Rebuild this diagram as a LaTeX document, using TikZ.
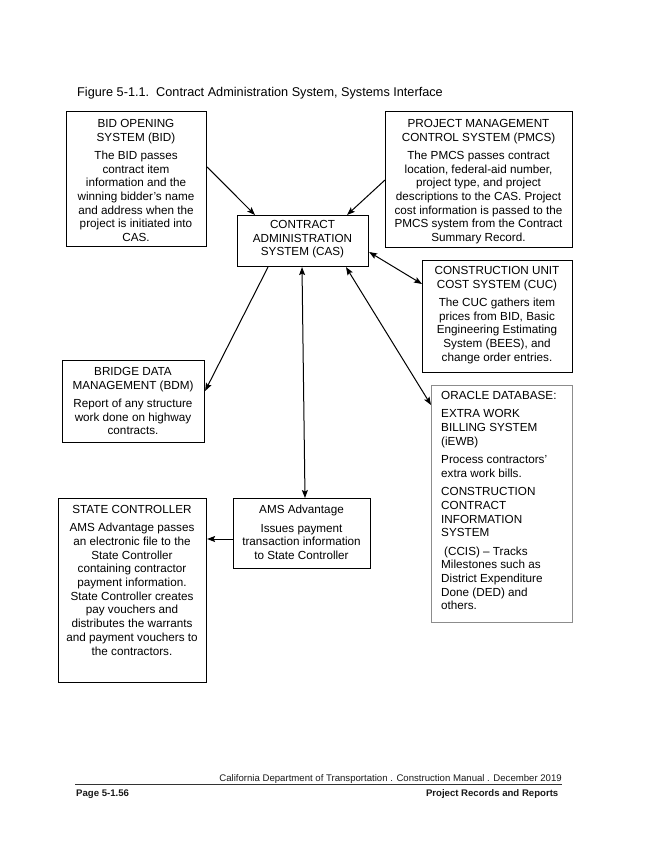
\documentclass[tikz,border=0pt]{standalone}
\usepackage{fontspec}
\setmainfont{Liberation Sans}
\usetikzlibrary{arrows.meta,calc}
\begin{document}
\begin{tikzpicture}[x=1pt,y=-1pt,
  box/.style={draw=black, line width=1.1pt, inner sep=0, anchor=north west},
  gbox/.style={box, draw=black!45, line width=0.9pt},
  txt/.style={anchor=north, inner sep=0, align=center, text=black,
    font=\fontsize{11.7}{13.7}\selectfont, execute at begin node=\rule{0pt}{10pt}},
  ltxt/.style={txt, anchor=north west, align=left},
  foot/.style={inner sep=0, font=\fontsize{9.6}{11}\selectfont, text=black!90},
  bfoot/.style={foot, font=\bfseries\fontsize{9.6}{11}\selectfont},
  arr/.style={-{Stealth[length=8pt,width=6pt,inset=1.5pt]}, line width=1pt},
  barr/.style={{Stealth[length=8pt,width=6pt,inset=1.5pt]}-{Stealth[length=8pt,width=6pt,inset=1.5pt]}, line width=1pt}]
\useasboundingbox (0,0) rectangle (650,842);
\fill[white] (0,0) rectangle (650,842);

% title
\node[inner sep=0, anchor=base west, font=\fontsize{12.7}{14}\selectfont, text=black] (title) at (77,97)
  {Figure 5-1.1.\ \ Contract Administration System, Systems Interface};

% boxes
\node[box, minimum width=140, minimum height=135] (bid) at (66,111) {};
\node[box, minimum width=187, minimum height=136] (pmcs) at (385,111) {};
\node[box, minimum width=131, minimum height=51] (cas) at (237,215) {};
\node[box, minimum width=150, minimum height=112] (cuc) at (422,260) {};
\node[box, minimum width=142, minimum height=82] (bdm) at (62,360) {};
\node[gbox, minimum width=141, minimum height=237] (ora) at (431,385) {};
\node[box, minimum width=148, minimum height=184] (sc) at (58,498) {};
\node[box, minimum width=137, minimum height=70] (ams) at (233,498) {};

% texts
\node[txt] (bidt) at (136,119) {BID OPENING\\SYSTEM (BID)\\[4.7pt]The BID passes\\contract item\\information and the\\winning bidder's name\\and address when the\\project is initiated into\\CAS.};
\node[txt] (pmcst) at (478.5,119) {PROJECT MANAGEMENT\\CONTROL SYSTEM (PMCS)\\[4.7pt]The PMCS passes contract\\location, federal-aid number,\\project type, and project\\descriptions to the CAS. Project\\cost information is passed to the\\PMCS system from the Contract\\Summary Record.};
\node[txt] (cast) at (302.5,220) {CONTRACT\\ADMINISTRATION\\SYSTEM (CAS)};
\node[txt] (cuct) at (497,266) {CONSTRUCTION UNIT\\COST SYSTEM (CUC)\\[4.7pt]The CUC gathers item\\prices from BID, Basic\\Engineering Estimating\\System (BEES), and\\change order entries.};
\node[txt] (bdmt) at (133,367) {BRIDGE DATA\\MANAGEMENT (BDM)\\[4.7pt]Report of any structure\\work done on highway\\contracts.};
\node[ltxt] (orat) at (441,391) {ORACLE DATABASE:\\[4.7pt]EXTRA WORK\\BILLING SYSTEM\\(iEWB)\\[4.7pt]Process contractors'\\extra work bills.\\[4.7pt]CONSTRUCTION\\CONTRACT\\INFORMATION\\SYSTEM\\[4.7pt]\hspace{3pt}(CCIS) – Tracks\\Milestones such as\\District Expenditure\\Done (DED) and\\others.};
\node[txt] (sct) at (132,505) {STATE CONTROLLER\\[4.7pt]AMS Advantage passes\\an electronic file to the\\State Controller\\containing contractor\\payment information.\\State Controller creates\\pay vouchers and\\distributes the warrants\\and payment vouchers to\\the contractors.};
\node[txt] (amst) at (301.5,505) {AMS Advantage\\[4.7pt]Issues payment\\transaction information\\to State Controller};

% connectors
\draw[arr] ($(bid.north east)!(0,167)!(bid.south east)$) -- ($(cas.north west)!(255,0)!(cas.north east)$);
\draw[arr] ($(pmcs.north west)!(0,180)!(pmcs.south west)$) -- ($(cas.north west)!(347,0)!(cas.north east)$);
\draw[barr] ($(cas.north east)!(0,252)!(cas.south east)$) -- ($(cuc.north west)!(0,284)!(cuc.south west)$);
\draw[arr] ($(cas.south west)!(268,0)!(cas.south east)$) -- ($(bdm.north east)!(0,391)!(bdm.south east)$);
\draw[barr] ($(cas.south west)!(302,0)!(cas.south east)$) -- ($(ams.north west)!(305,0)!(ams.north east)$);
\draw[barr] ($(cas.south west)!(346,0)!(cas.south east)$) -- ($(ora.north west)!(0,405)!(ora.south west)$);
\draw[arr] ($(ams.north west)!(0,539)!(ams.south west)$) -- ($(sc.north east)!(0,539)!(sc.south east)$);

% footer
\node[foot, anchor=base east] (f1) at (562,781.5) {California Department of Transportation . Construction Manual . December 2019};
\coordinate (rl) at (75,784.5);
\coordinate (rr) at (562,784.5);
\draw[line width=0.7pt, black!80] (rl) -- (rr);
\node[bfoot, anchor=base west] (f2) at (76,796.5) {Page 5-1.56};
\node[bfoot, anchor=base east] (f3) at (558.5,796.5) {Project Records and Reports};
\end{tikzpicture}
\end{document}
